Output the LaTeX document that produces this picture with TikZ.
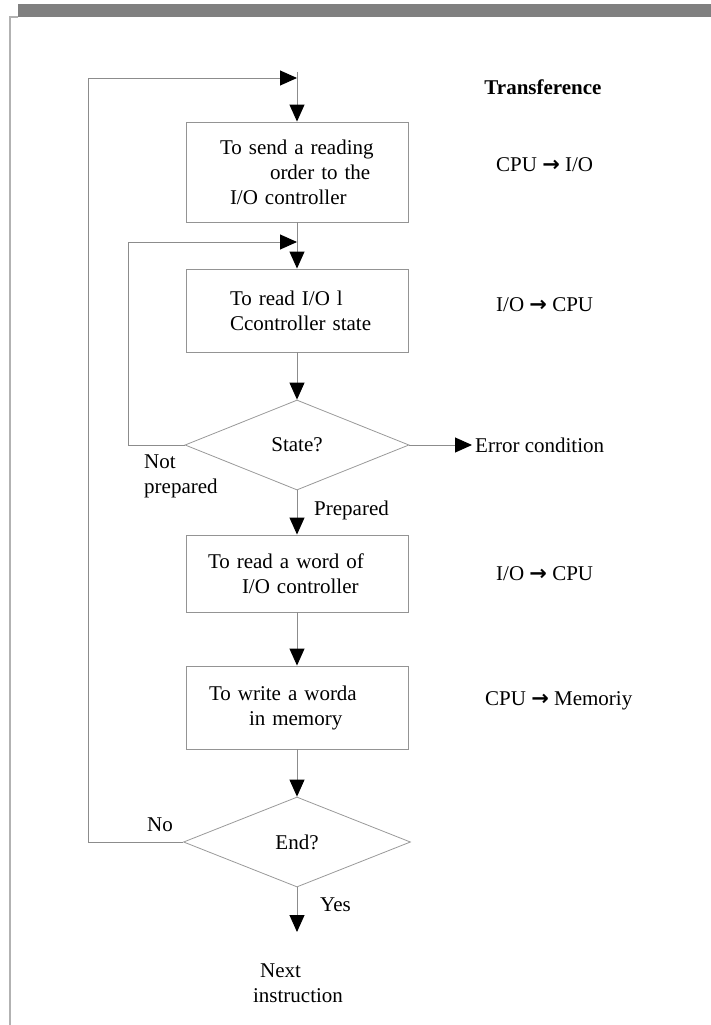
\documentclass[tikz,border=0pt]{standalone}
\usepackage{fontspec}
\setmainfont{Liberation Serif}
\newfontfamily\arrowfont{DejaVu Sans}
\usetikzlibrary{arrows.meta,shapes.geometric}
\newcommand\tarrow{{\arrowfont\bfseries →}}

\begin{document}
\begin{tikzpicture}[x=1pt,y=-1pt,
  font=\fontsize{21}{25}\selectfont,
  line/.style={draw=black!45, line width=0.9pt},
  flow/.style={line, -{Triangle[length=17pt,width=15pt,color=black,fill=black]}},
  stepbox/.style={draw=black!42, line width=0.9pt, minimum width=222pt,
    align=left, inner ysep=0pt},
  decision/.style={diamond, draw=black!40, line width=0.8pt, inner sep=0pt,
    minimum width=224pt, minimum height=90pt},
  lbl/.style={inner sep=0pt, align=left},
]
\useasboundingbox (0,0) rectangle (711,1025);

% page frame
\fill[black!50] (18,4) rectangle (711,17);
\draw[black!30, line width=1.5pt] (18,17) -- (10,17) -- (10,1025);

% process steps
\node[stepbox, inner xsep=34pt, text width=154pt, minimum height=100pt] (b1) at (297,172)
  {\mbox{To send a reading}\\\mbox{\hspace{50pt}order to the}\\\mbox{\hspace{10pt}I/O controller}};
\node[stepbox, inner xsep=44pt, text width=134pt, minimum height=83pt] (b2) at (297,310.5)
  {\mbox{To read I/O l}\\\mbox{Ccontroller state}};
\node[decision] (d1) at (297,445) {State?};
\node[stepbox, inner xsep=22pt, text width=178pt, minimum height=77pt] (b3) at (297,573.5)
  {\mbox{To read a word of}\\\mbox{\hspace{34pt}I/O controller}};
\node[stepbox, inner xsep=23pt, text width=176pt, minimum height=83pt] (b4) at (297,707.5)
  {\mbox{To write a worda}\\\mbox{\hspace{40pt}in memory}};
\node[decision, minimum width=227pt] (d2) at (297,842) {End?};
\node[lbl] (next) at (298,983) {\hspace*{7pt}Next\\instruction};
\node[lbl, inner xsep=3pt, anchor=west] (err) at (472,445) {Error condition};

% branch labels
\node[lbl, anchor=west] (np) at (144,476) {Not\\prepared};
\node[lbl, anchor=west] (pr) at (314,510) {Prepared};
\node[lbl, anchor=west] (no) at (147,825) {No};
\node[lbl, anchor=west] (yes) at (320,905) {Yes};

% transfer column
\node[lbl, font=\fontsize{21}{25}\selectfont\bfseries] (tr) at (543,87) {Transference};
\node[lbl, anchor=west] (t1) at (496,165) {CPU \tarrow\ I/O};
\node[lbl, anchor=west] (t2) at (496,305) {I/O \tarrow\ CPU};
\node[lbl, anchor=west] (t3) at (496,574) {I/O \tarrow\ CPU};
\node[lbl, anchor=west] (t4) at (485,701) {CPU \tarrow\ Memoriy};

% junctions
\coordinate (top) at (297,72);
\coordinate (j1) at (297,78);
\coordinate (c1) at (88,78);
\coordinate (j2) at (297,242);
\coordinate (c2) at (128,242);
\coordinate (ex) at (297,932);

% connectors
\draw[flow] (top) -- (b1.north);
\draw[flow] (b1.south) -- (b2.north);
\draw[flow] (b2.south) -- (d1.north);
\draw[flow] (d1.south) -- (b3.north);
\draw[flow] (b3.south) -- (b4.north);
\draw[flow] (b4.south) -- (d2.north);
\draw[flow] (d2.south) -- (ex);
\draw[flow] (d1.east) -- (err.west);
\draw[flow] (d1.west) -| (c2) -- (j2);
\draw[flow] (d2.west) -| (c1) -- (j1);
\end{tikzpicture}
\end{document}
